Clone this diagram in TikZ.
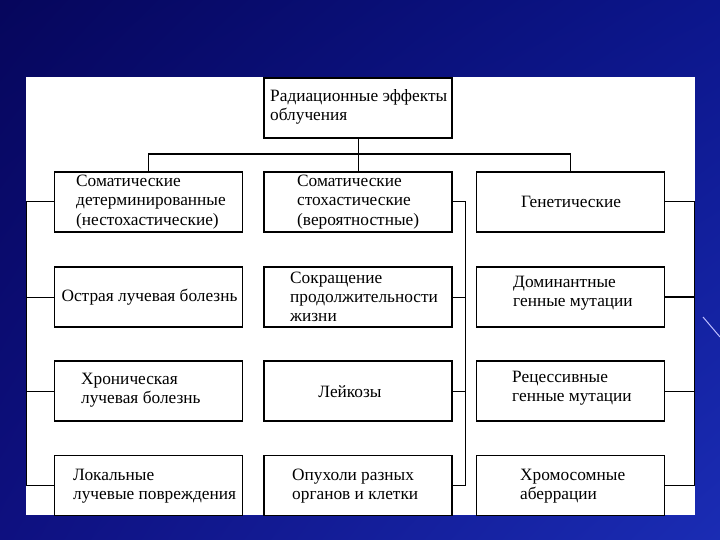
\documentclass[tikz,border=0pt]{standalone}
\usepackage{fontspec}
\setmainfont{Liberation Serif}
\usetikzlibrary{shadings}
\definecolor{bgUL}{RGB}{6,6,92}
\definecolor{bgUR}{RGB}{12,22,140}
\definecolor{bgLL}{RGB}{14,16,128}
\definecolor{bgLR}{RGB}{26,44,180}
\definecolor{decoline}{RGB}{190,190,255}
\begin{document}
\begin{tikzpicture}[x=1pt,y=-1pt,
  box/.style={draw=black, line width=1.6pt, fill=white, minimum width=188pt, minimum height=60pt, inner sep=0pt},
  txt/.style={inner sep=0pt, align=left, font=\fontsize{17.3}{19.3}\selectfont},
  conn/.style={draw=black, line width=1pt},
  busline/.style={draw=black, line width=1.8pt}]
\useasboundingbox (0,0) rectangle (720,540);
\shade[upper left=bgUL, upper right=bgUR, lower left=bgLL, lower right=bgLR] (0,0) rectangle (720,540);
\draw[decoline, line width=1pt] (703,317) -- (720,337);
\fill[white] (26,77) rectangle (695,515);
% boxes
\node[box] (top) at (358,108) {};
\node[box] (l1) at (148.5,202) {};
\node[box] (m1) at (358,202) {};
\node[box] (r1) at (570.5,202) {};
\node[box] (l2) at (148.5,297) {};
\node[box] (m2) at (358,297) {};
\node[box] (r2) at (570.5,297) {};
\node[box] (l3) at (148.5,391) {};
\node[box] (m3) at (358,391) {};
\node[box] (r3) at (570.5,391) {};
\node[box] (l4) at (148.5,485.5) {};
\node[box] (m4) at (358,485.5) {};
\node[box] (r4) at (570.5,485.5) {};
% texts
\node[txt, anchor=west] (ttop) at (270,107) {Радиационные эффекты\\облучения};
\node[txt, anchor=west] (tl1) at (76,202) {Соматические\\детерминированные\\(нестохастические)};
\node[txt, anchor=west] (tm1) at (297,202) {Соматические\\стохастические\\(вероятностные)};
\node[txt] (tr1) at (571,202) {Генетические};
\node[txt] (tl2) at (149.5,297) {Острая лучевая болезнь};
\node[txt, anchor=west] (tm2) at (290,297) {Сокращение\\продолжительности\\жизни};
\node[txt, anchor=west] (tr2) at (513,293) {Доминантные\\генные мутации};
\node[txt, anchor=west] (tl3) at (81,390) {Хроническая\\лучевая болезнь};
\node[txt] (tm3) at (350,392) {Лейкозы};
\node[txt, anchor=west] (tr3) at (512,388) {Рецессивные\\генные мутации};
\node[txt, anchor=west] (tl4) at (73,486) {Локальные\\лучевые повреждения};
\node[txt, anchor=west] (tm4) at (292,486) {Опухоли разных\\органов и клетки};
\node[txt, anchor=west] (tr4) at (520,486) {Хромосомные\\аберрации};
% bus coordinates
\coordinate (lb) at (26.5,0);
\coordinate (mb) at (465,0);
\coordinate (rb) at (694,0);
% connectors
\draw[conn] (top.south) -- (m1.north);
\draw[busline] (l1.north) -- ++(0,-17) -| (r1.north);
\draw[conn] (l1.west) -- (l1.west -| lb) -- (l4.west -| lb) -- (l4.west);
\draw[conn] (l2.west) -- (l2.west -| lb);
\draw[conn] (l3.west) -- (l3.west -| lb);
\draw[conn] (m1.east) -- (m1.east -| mb) -- (m4.east -| mb) -- (m4.east);
\draw[conn] (m2.east) -- (m2.east -| mb);
\draw[conn] (m3.east) -- (m3.east -| mb);
\draw[conn] (r1.east) -- (r1.east -| rb) -- (r4.east -| rb) -- (r4.east);
\draw[conn, line width=1.6pt] (r2.east) -- (r2.east -| rb);
\draw[conn] (r3.east) -- (r3.east -| rb);
\end{tikzpicture}
\end{document}
